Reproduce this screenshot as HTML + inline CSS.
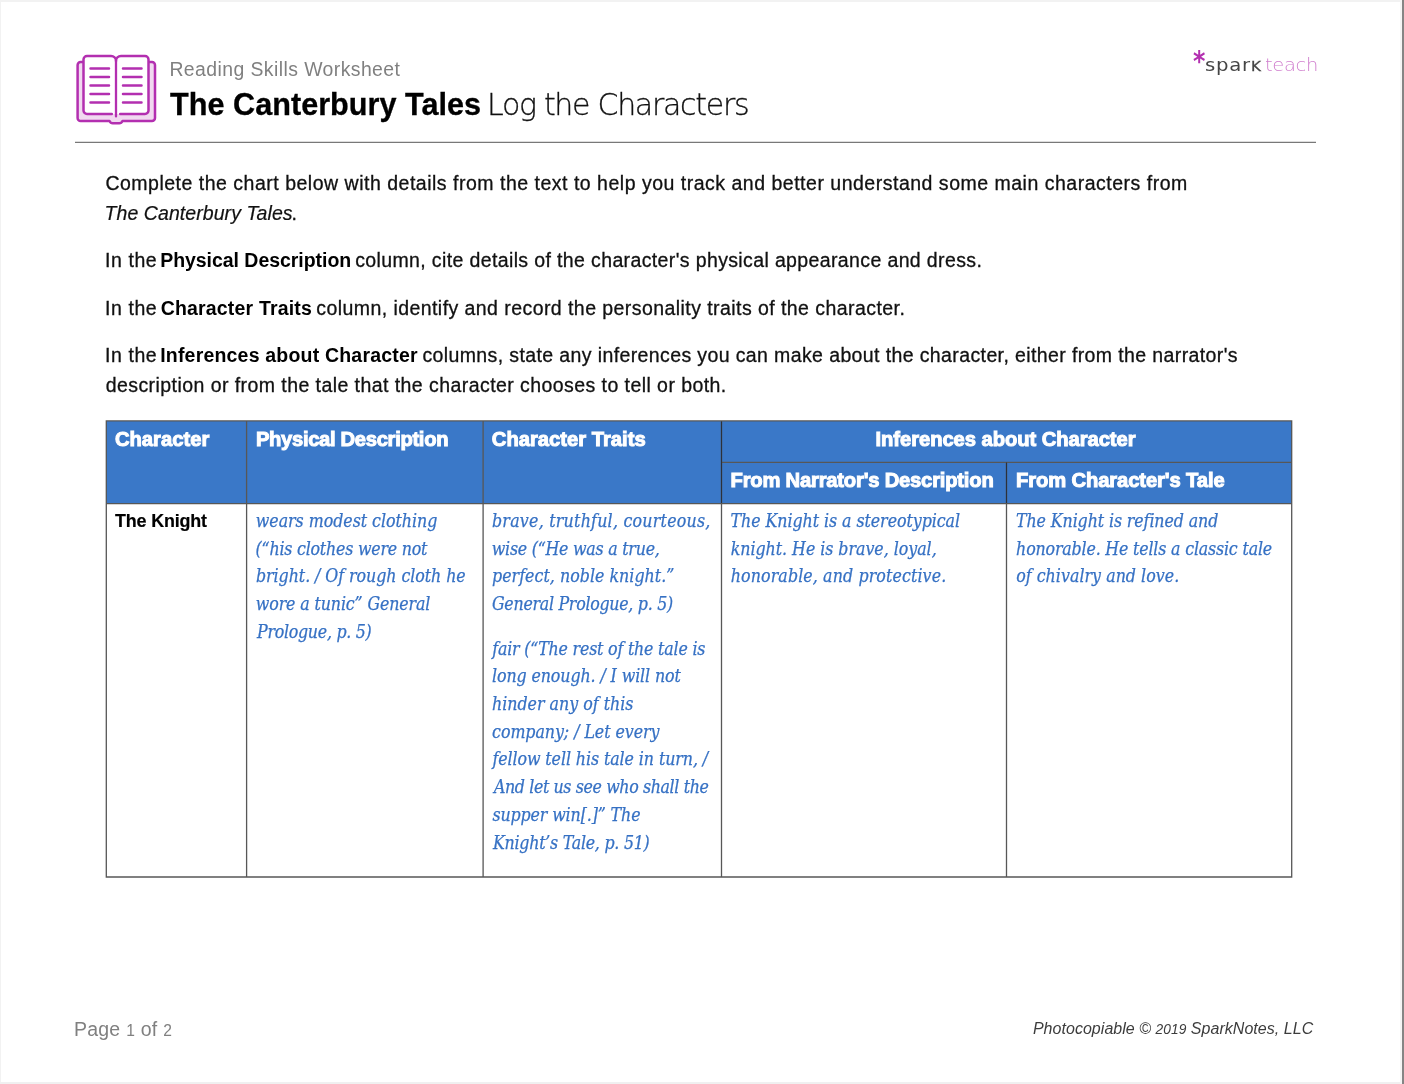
<!DOCTYPE html>
<html lang="en">
<head>
<meta charset="utf-8">
<title>The Canterbury Tales - Log the Characters</title>
<style>

html,body{margin:0;padding:0;}
body{width:1404px;height:1084px;position:relative;overflow:hidden;background:#fff;}
.t{position:absolute;white-space:pre;line-height:1;margin:0;padding:0;}
.os{font-size:0.8em;}
.os2{font-size:0.86em;}
.sc{text-transform:uppercase;font-size:0.77em;-webkit-text-stroke:0.3px #454545;}
.sub{font-family:"Liberation Sans", Arial, sans-serif;font-size:19.4px;font-weight:400;font-style:normal;color:#808080;}
.tb{font-family:"Liberation Sans", Arial, sans-serif;font-size:30.6px;font-weight:700;font-style:normal;color:#000;-webkit-text-stroke:0.3px #000;}
.tl{font-family:"DejaVu Sans", "Liberation Sans", sans-serif;font-size:30.0px;font-weight:200;font-style:normal;color:#111;-webkit-text-stroke:0.3px #111;}
.p{font-family:"Liberation Sans", Arial, sans-serif;font-size:19.5px;font-weight:400;font-style:normal;color:#111;-webkit-text-stroke:0.3px #111;}
.pi{font-family:"Liberation Sans", Arial, sans-serif;font-size:19.5px;font-weight:400;font-style:italic;color:#111;-webkit-text-stroke:0.2px #111;}
.pb{font-family:"Liberation Sans", Arial, sans-serif;font-size:19.5px;font-weight:700;font-style:normal;color:#000;}
.th{font-family:"Liberation Sans", Arial, sans-serif;font-size:20.2px;font-weight:700;font-style:normal;color:#fff;-webkit-text-stroke:1.0px #fff;}
.name{font-family:"Liberation Sans", Arial, sans-serif;font-size:17.9px;font-weight:700;font-style:normal;color:#000;-webkit-text-stroke:0.2px #000;}
.c{font-family:"DejaVu Serif Condensed", "DejaVu Serif", "Liberation Serif", serif;font-size:17.6px;font-weight:400;font-style:italic;color:#3671c4;-webkit-text-stroke:0.25px #3671c4;}
.pg{font-family:"Liberation Sans", Arial, sans-serif;font-size:19.5px;font-weight:400;font-style:normal;color:#808080;}
.cp{font-family:"Liberation Sans", Arial, sans-serif;font-size:16.0px;font-weight:400;font-style:italic;color:#3c3c3c;}
.lg1{font-family:"DejaVu Sans", "Liberation Sans", sans-serif;font-size:18.4px;font-weight:400;font-style:normal;color:#454545;transform:scaleX(1.07);transform-origin:0 0;}
.lg2{font-family:"DejaVu Sans", "Liberation Sans", sans-serif;font-size:18.4px;font-weight:200;font-style:normal;color:#d07fce;transform:scaleX(1.06);transform-origin:0 0;}
.ast{font-family:"DejaVu Sans", "Liberation Sans", sans-serif;font-size:27.5px;font-weight:700;font-style:normal;color:#b32fb0;transform:scaleX(0.86);transform-origin:0 0;}
.fr{position:absolute;}
.fr.t1{left:0;top:0;width:1402px;height:2px;background:#f2f2f2;}
.fr.l1{left:0;top:0;width:1px;height:1084px;background:#f2f2f2;}
.fr.b1{left:0;top:1082px;width:1402px;height:2px;background:#f0f0f0;}
.fr.r1{left:1400px;top:0;width:2px;height:1084px;background:#f5f5f5;}
.fr.r2{left:1401.8px;top:0;width:2.2px;height:1084px;background:#858585;}
.rule{position:absolute;left:0;top:0;}
.hd{position:absolute;left:106px;top:421px;width:1186px;height:83px;background:#3a78c8;}
.grid{position:absolute;left:0;top:0;}
.bookicon{position:absolute;left:70px;top:48px;}

</style>
</head>
<body>
<div class="fr t1"></div><div class="fr l1"></div><div class="fr b1"></div><div class="fr r1"></div><div class="fr r2"></div>
<header>
<svg class="bookicon" width="92" height="82" viewBox="70 48 92 82" fill="none" stroke="#b32fb0" stroke-width="2.5" stroke-linecap="round" stroke-linejoin="round">
<path d="M83 62 H80.6 a3 3 0 0 0 -3 3 V118 a3 3 0 0 0 3 3 H109.5 q1 2.3 3.2 2.3 h6.6 q2.2 0 3.2 -2.3 H152 a3 3 0 0 0 3 -3 V65 a3 3 0 0 0 -3 -3 H149.5" fill="#f1d9f0"/>
<path d="M112 114 H87 a3.5 3.5 0 0 1 -3.5 -3.5 V59.5 a3.5 3.5 0 0 1 3.5 -3.5 H111 a5 5 0 0 1 5 5 a5 5 0 0 1 5 -5 H145 a3.5 3.5 0 0 1 3.5 3.5 V110.5 a3.5 3.5 0 0 1 -3.5 3.5 H120 Z" fill="#fff" stroke="none"/>
<path d="M111.8 114 H87 a3.5 3.5 0 0 1 -3.5 -3.5 V59.5 a3.5 3.5 0 0 1 3.5 -3.5 H111 a5 5 0 0 1 5 5 a5 5 0 0 1 5 -5 H145 a3.5 3.5 0 0 1 3.5 3.5 V110.5 a3.5 3.5 0 0 1 -3.5 3.5 H120.2"/>
<path d="M116 61 V116.4" stroke-width="2.3"/>
<path d="M90.5 68.5 H109 M90.5 77 H109 M90.5 85.5 H109 M90.5 94 H109 M90.5 102.5 H109 M123 68.5 H141.5 M123 77 H141.5 M123 85.5 H141.5 M123 94 H141.5 M123 102.5 H141.5"/>
</svg>

<div class="titles"><span class="t sub" style="left:169.4px;top:60.0px;letter-spacing:0.433px">Reading Skills Worksheet</span>
<span class="t tb" style="left:170.1px;top:88.6px;letter-spacing:0.021px">The Canterbury Tales</span>
<span class="t tl" style="left:487.0px;top:89.6px;letter-spacing:-1.295px">Log the Characters</span></div>
<div class="logo"><span class="t ast" style="left:1193.3px;top:47.7px;letter-spacing:0.000px">*</span>
<span class="t lg1" style="left:1205.2px;top:55.6px;letter-spacing:0.720px">spar<span class="sc">k</span></span>
<span class="t lg2" style="left:1264.9px;top:55.6px;letter-spacing:-0.327px">teach</span></div>
<svg class="rule" width="1404" height="160" viewBox="0 0 1404 160"><path d="M75 142.35 H1316" fill="none" stroke="#787878" stroke-width="1.3"/></svg>
</header>
<section class="intro">
<div class="paras"><span class="t p" style="left:105.4px;top:174.0px;letter-spacing:0.506px">Complete the chart below with details from the text to help you track and better understand some main characters from</span>
<span class="t pi" style="left:104.6px;top:204.1px;letter-spacing:0.062px">The Canterbury Tales</span>
<span class="t p" style="left:291.5px;top:204.1px;letter-spacing:0.000px">.</span>
<span class="t p" style="left:105.0px;top:250.6px;letter-spacing:0.570px">In the</span>
<span class="t pb" style="left:160.2px;top:250.6px;letter-spacing:-0.044px">Physical Description</span>
<span class="t p" style="left:355.2px;top:250.6px;letter-spacing:0.372px">column, cite details of the character&#x27;s physical appearance and dress.</span>
<span class="t p" style="left:105.0px;top:299.2px;letter-spacing:0.570px">In the</span>
<span class="t pb" style="left:160.7px;top:299.2px;letter-spacing:0.178px">Character Traits</span>
<span class="t p" style="left:316.2px;top:299.2px;letter-spacing:0.438px">column, identify and record the personality traits of the character.</span>
<span class="t p" style="left:105.0px;top:345.8px;letter-spacing:0.570px">In the</span>
<span class="t pb" style="left:160.2px;top:345.8px;letter-spacing:0.195px">Inferences about Character</span>
<span class="t p" style="left:422.4px;top:345.8px;letter-spacing:0.385px">columns, state any inferences you can make about the character, either from the narrator&#x27;s</span>
<span class="t p" style="left:105.7px;top:375.9px;letter-spacing:0.436px">description or from the tale that the character chooses to tell or both.</span></div>
</section>
<section class="chart">
<div class="hd"></div>
<svg class="grid" width="1404" height="1084" viewBox="0 0 1404 1084" fill="none" stroke="#575757" stroke-width="1.3">
<path d="M105.65 420.9 H1292.35 M105.65 877 H1292.35 M106.3 420.9 V877 M1291.7 420.9 V877"/>
<path d="M246.6 421 V877 M483.1 421 V877 M721.5 421 V877 M1006.5 462 V877"/>
<path d="M721.5 462.4 H1292 M106.3 503.65 H1291.7"/>
<path d="M721.5 421.6 V503 M1006.5 462.6 V503" stroke="#2c313a" stroke-width="1.1"/>
</svg>
<div class="thead"><span class="t th" style="left:114.9px;top:429.0px;letter-spacing:0.030px">Character</span>
<span class="t th" style="left:255.9px;top:429.0px;letter-spacing:-0.315px">Physical Description</span>
<span class="t th" style="left:491.8px;top:429.0px;letter-spacing:0.010px">Character Traits</span>
<span class="t th" style="left:875.5px;top:429.0px;letter-spacing:-0.054px">Inferences about Character</span>
<span class="t th" style="left:730.5px;top:470.1px;letter-spacing:-0.200px">From Narrator&#x27;s Description</span>
<span class="t th" style="left:1016.1px;top:470.1px;letter-spacing:-0.117px">From Character&#x27;s Tale</span></div>
<div class="tbody"><span class="t name" style="left:115.0px;top:512.9px;letter-spacing:-0.150px">The Knight</span>
<span class="t c" style="left:255.8px;top:513.0px;letter-spacing:-0.024px">wears modest clothing</span>
<span class="t c" style="left:255.6px;top:541.0px;letter-spacing:-0.205px">(“his clothes were not</span>
<span class="t c" style="left:256.0px;top:568.0px;letter-spacing:-0.048px">bright. / Of rough cloth he</span>
<span class="t c" style="left:255.8px;top:596.0px;letter-spacing:-0.114px">wore a tunic” General</span>
<span class="t c" style="left:257.0px;top:624.0px;letter-spacing:-0.266px">Prologue, p. 5)</span>
<span class="t c" style="left:492.0px;top:513.0px;letter-spacing:0.242px">brave, truthful, courteous,</span>
<span class="t c" style="left:491.8px;top:541.0px;letter-spacing:-0.234px">wise (“He was a true,</span>
<span class="t c" style="left:492.0px;top:568.0px;letter-spacing:0.041px">perfect, noble knight.”</span>
<span class="t c" style="left:492.0px;top:596.0px;letter-spacing:-0.274px">General Prologue, p. 5)</span>
<span class="t c" style="left:492.3px;top:641.0px;letter-spacing:-0.189px">fair (“The rest of the tale is</span>
<span class="t c" style="left:492.0px;top:668.0px;letter-spacing:-0.091px">long enough. / I will not</span>
<span class="t c" style="left:492.0px;top:696.0px;letter-spacing:0.008px">hinder any of this</span>
<span class="t c" style="left:492.1px;top:724.0px;letter-spacing:-0.047px">company; / Let every</span>
<span class="t c" style="left:492.4px;top:751.0px;letter-spacing:-0.072px">fellow tell his tale in turn, /</span>
<span class="t c" style="left:493.9px;top:779.0px;letter-spacing:-0.369px">And let us see who shall the</span>
<span class="t c" style="left:492.4px;top:807.0px;letter-spacing:-0.107px">supper win[.]” The</span>
<span class="t c" style="left:493.0px;top:835.0px;letter-spacing:-0.241px">Knight’s Tale, p. 51)</span>
<span class="t c" style="left:730.6px;top:513.0px;letter-spacing:-0.048px">The Knight is a stereotypical</span>
<span class="t c" style="left:730.7px;top:541.0px;letter-spacing:-0.021px">knight. He is brave, loyal,</span>
<span class="t c" style="left:730.7px;top:568.0px;letter-spacing:0.124px">honorable, and protective.</span>
<span class="t c" style="left:1016.0px;top:513.0px;letter-spacing:-0.091px">The Knight is refined and</span>
<span class="t c" style="left:1016.1px;top:541.0px;letter-spacing:-0.163px">honorable. He tells a classic tale</span>
<span class="t c" style="left:1016.2px;top:568.0px;letter-spacing:0.039px">of chivalry and love.</span></div>
</section>
<footer>
<div class="foot"><span class="t pg" style="left:73.9px;top:1019.8px;letter-spacing:0.252px">Page <span class="os">1</span> of <span class="os">2</span></span>
<span class="t cp" style="left:1032.9px;top:1020.9px;letter-spacing:0.039px">Photocopiable © <span class="os2">2019</span> SparkNotes, LLC</span></div>
</footer>
</body>
</html>
